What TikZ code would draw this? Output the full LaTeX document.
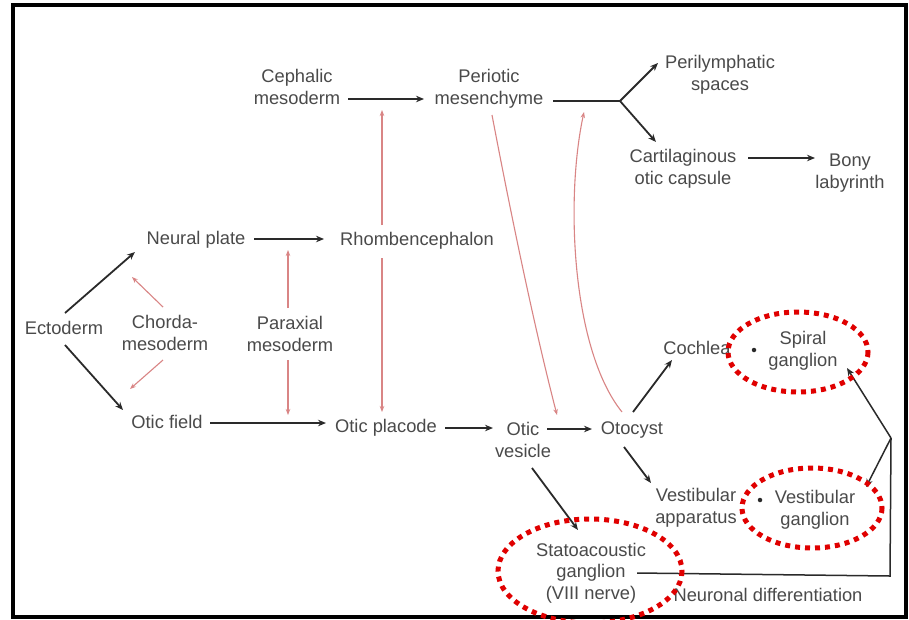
\documentclass[tikz,border=0pt]{standalone}
\usepackage{fontspec}
\setmainfont{Liberation Sans}
\usetikzlibrary{arrows.meta}
\definecolor{txt}{HTML}{4A4A4A}
\definecolor{blk}{HTML}{2A2A2A}
\definecolor{pinkred}{HTML}{D98585}
\definecolor{hl}{HTML}{E00000}
\begin{document}
\begin{tikzpicture}[x=1pt,y=-1pt,
  lbl/.style={inner sep=0pt,align=center,text=txt,font=\fontsize{18.3}{21.5}\selectfont},
  barrow/.style={draw=blk,line width=1.8pt,-{Stealth[length=8pt,width=6.5pt]}},
  bline/.style={draw=blk,line width=1.8pt},
  rarrow/.style={draw=pinkred,line width=1.1pt,-{Stealth[length=6pt,width=4.5pt]}},
  hlring/.style={draw=hl,line width=5pt,dash pattern=on 5pt off 5pt},
  dotnode/.style={circle,fill=blk,inner sep=0pt,minimum size=4.5pt}]
\useasboundingbox (0,0) rectangle (909,619);
\fill[white] (0,0) rectangle (909,619);
\draw[line width=4pt] (13,5) rectangle (906,617);

% nodes
\node[lbl] (ceph) at (297,87) {Cephalic\\mesoderm};
\node[lbl] (peri) at (489,89) {Periotic\\mesenchyme};
\node[lbl] (peril) at (720,75) {Perilymphatic\\spaces};
\node[lbl] (cart) at (683,169) {Cartilaginous\\otic capsule};
\node[lbl] (bony) at (850,173) {Bony\\labyrinth};
\node[lbl] (neural) at (196,240) {Neural plate};
\node[lbl] (rhomb) at (417,241) {Rhombencephalon};
\node[lbl] (ecto) at (64,328) {Ectoderm};
\node[lbl] (chorda) at (165,333) {Chorda-\\mesoderm};
\node[lbl] (parax) at (290,334) {Paraxial\\mesoderm};
\node[lbl] (oticf) at (167,422) {Otic field};
\node[lbl] (placode) at (386,428) {Otic placode};
\node[lbl] (vesicle) at (523,440) {Otic\\vesicle};
\node[lbl] (otocyst) at (632,430) {Otocyst};
\node[lbl] (cochlea) at (697,348) {Cochlea};
\node[lbl] (spiral) at (803,351) {Spiral\\ganglion};
\node[lbl] (vestapp) at (696,508) {Vestibular\\apparatus};
\node[lbl] (vestg) at (815,510) {Vestibular\\ganglion};
\node[lbl] (stato) at (591,573) {Statoacoustic\\ganglion\\(VIII nerve)};
\node[lbl] (neuro) at (768,595) {Neuronal differentiation};
\node[dotnode] (dot1) at (754,350) {};
\node[dotnode] (dot2) at (760,500) {};

\coordinate (j1) at (620,101);
\coordinate (c1) at (890,576);
\coordinate (j2) at (891,438);

% black arrows
\draw[barrow] ([shift={(51,12)}]ceph.center) -- ([shift={(-65,10)}]peri.center);
\draw[bline] ([shift={(64,12)}]peri.center) -- (j1);
\draw[barrow] (j1) -- ([shift={(-62,-12)}]peril.center);
\draw[barrow] (j1) -- ([shift={(-27,-27)}]cart.center);
\draw[barrow] ([shift={(65,-11)}]cart.center) -- ([shift={(-35,-15)}]bony.center);
\draw[barrow] ([shift={(58,-1)}]neural.center) -- ([shift={(-93,-2)}]rhomb.center);
\draw[barrow] ([shift={(1,-15)}]ecto.center) -- ([shift={(-61,12)}]neural.center);
\draw[barrow] ([shift={(1,17)}]ecto.center) -- ([shift={(-44,-12)}]oticf.center);
\draw[barrow] ([shift={(43,1)}]oticf.center) -- ([shift={(-60,-5)}]placode.center);
\draw[barrow] ([shift={(59,0)}]placode.center) -- ([shift={(-30,-12)}]vesicle.center);
\draw[barrow] ([shift={(24,-11)}]vesicle.center) -- ([shift={(-40,-1)}]otocyst.center);
\draw[barrow] ([shift={(1,-18)}]otocyst.center) -- ([shift={(-25,12)}]cochlea.center);
\draw[barrow] ([shift={(-8,17)}]otocyst.center) -- ([shift={(-45,-25)}]vestapp.center);
\draw[barrow] ([shift={(9,28)}]vesicle.center) -- ([shift={(-13,-43)}]stato.center);
\draw[bline,line width=1.5pt] ([shift={(46,0)}]stato.center) -- (c1) -- (j2);
\draw[barrow,line width=1.5pt] (j2) -- ([shift={(44,17)}]spiral.center);
\draw[barrow,line width=1.5pt] (j2) -- ([shift={(51,-23)}]vestg.center);

% red arrows
\draw[rarrow] ([shift={(-2,-26)}]chorda.center) -- ([shift={(-64,37)}]neural.center);
\draw[rarrow] ([shift={(-2,27)}]chorda.center) -- ([shift={(-37,-33)}]oticf.center);
\draw[rarrow] ([shift={(-2,-26)}]parax.center) -- ([shift={(92,10)}]neural.center);
\draw[rarrow] ([shift={(-2,26)}]parax.center) -- ([shift={(121,-7)}]oticf.center);
\draw[rarrow] ([shift={(-35,-16)}]rhomb.center) -- ([shift={(85,23)}]ceph.center);
\draw[rarrow] ([shift={(-35,17)}]rhomb.center) -- ([shift={(-4,-16)}]placode.center);
\draw[rarrow] ([shift={(3,26)}]peri.center) .. controls (512,220) and (535,330) .. ([shift={(34,-25)}]vesicle.center);
\draw[rarrow] ([shift={(-10,-18)}]otocyst.center) .. controls (572,350) and (565,200) .. ([shift={(95,23)}]peri.center);

% red highlight rings
\draw[hlring] (798,352) ellipse [x radius=70, y radius=40];
\draw[hlring] (812,508) ellipse [x radius=70, y radius=40];
\draw[hlring] (590,571) ellipse [x radius=92, y radius=52];
\end{tikzpicture}
\end{document}
